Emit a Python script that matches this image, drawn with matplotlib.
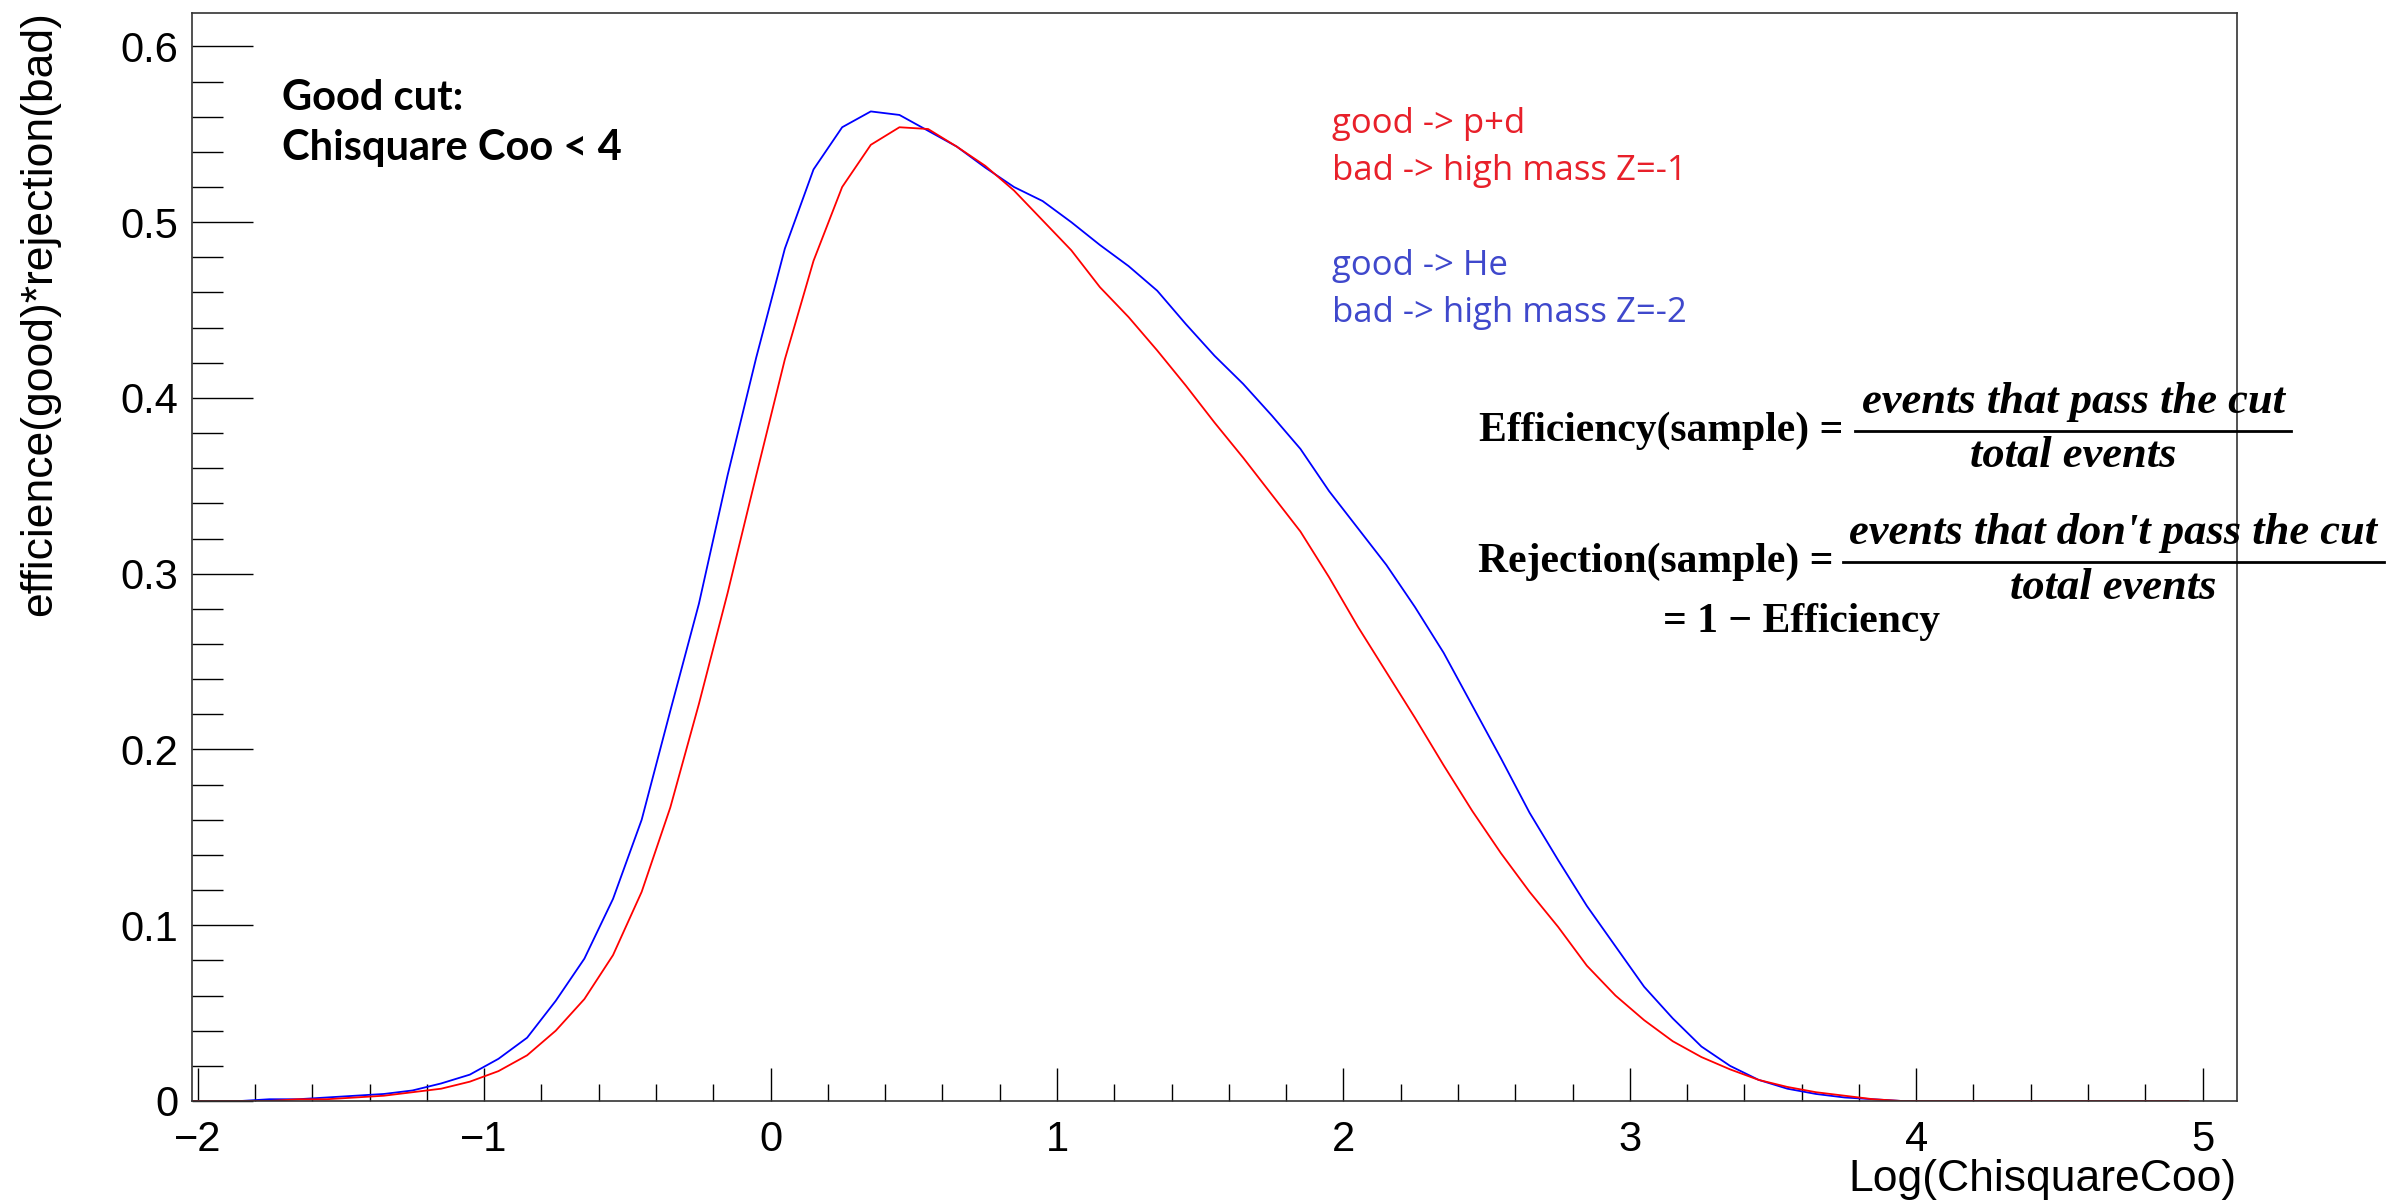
import numpy as np
import matplotlib.pyplot as plt
from matplotlib.lines import Line2D

# bin centres of the Log(ChisquareCoo) histogram
bin_centers = [-2.05, -1.95, -1.85, -1.75, -1.65, -1.55, -1.45, -1.35, -1.25, -1.15,
               -1.05, -0.95, -0.85, -0.75, -0.65, -0.55, -0.45, -0.35, -0.25, -0.15,
               -0.05, 0.05, 0.15, 0.25, 0.35, 0.45, 0.55, 0.65, 0.75, 0.85,
               0.95, 1.05, 1.15, 1.25, 1.35, 1.45, 1.55, 1.65, 1.75, 1.85,
               1.95, 2.05, 2.15, 2.25, 2.35, 2.45, 2.55, 2.65, 2.75, 2.85,
               2.95, 3.05, 3.15, 3.25, 3.35, 3.45, 3.55, 3.65, 3.75, 3.85,
               3.95, 4.05, 4.15, 4.25, 4.35, 4.45, 4.55, 4.65, 4.75, 4.85, 4.95]

# good -> He, bad -> high mass Z=-2 (blue)
he_vals = [0.0, 0.0, 0.0, 0.001, 0.001, 0.002, 0.003, 0.004, 0.006, 0.010,
           0.015, 0.024, 0.036, 0.057, 0.081, 0.115, 0.160, 0.222, 0.283, 0.356,
           0.423, 0.485, 0.530, 0.554, 0.563, 0.561, 0.552, 0.543, 0.531, 0.520,
           0.512, 0.500, 0.487, 0.475, 0.461, 0.442, 0.424, 0.408, 0.390, 0.371,
           0.347, 0.326, 0.305, 0.281, 0.255, 0.225, 0.195, 0.164, 0.137, 0.111,
           0.088, 0.065, 0.047, 0.031, 0.020, 0.012, 0.007, 0.004, 0.002, 0.001,
           0.0, 0.0, 0.0, 0.0, 0.0, 0.0, 0.0, 0.0, 0.0, 0.0, 0.0]

# good -> p+d, bad -> high mass Z=-1 (red)
pd_vals = [0.0, 0.0, 0.0, 0.0, 0.001, 0.001, 0.002, 0.003, 0.005, 0.007,
           0.011, 0.017, 0.026, 0.040, 0.058, 0.083, 0.119, 0.167, 0.226, 0.289,
           0.356, 0.422, 0.478, 0.520, 0.544, 0.554, 0.553, 0.543, 0.532, 0.518,
           0.501, 0.484, 0.463, 0.446, 0.427, 0.407, 0.386, 0.366, 0.345, 0.324,
           0.298, 0.270, 0.244, 0.218, 0.191, 0.165, 0.141, 0.119, 0.099, 0.077,
           0.060, 0.046, 0.034, 0.025, 0.018, 0.012, 0.008, 0.005, 0.003, 0.001,
           0.0, 0.0, 0.0, 0.0, 0.0, 0.0, 0.0, 0.0, 0.0, 0.0, 0.0]

xtick_vals = [-2, -1, 0, 1, 2, 3, 4, 5]
xtick_labels = ['\u22122', '\u22121', '0', '1', '2', '3', '4', '5']
ytick_vals = [0.0, 0.1, 0.2, 0.3, 0.4, 0.5, 0.6]
ytick_labels = ['0', '0.1', '0.2', '0.3', '0.4', '0.5', '0.6']

W, H = 2392, 1203
plt.rcParams['font.family'] = ['Liberation Sans', 'DejaVu Sans']


def fx(px):
    return px / W


def fy(py):
    # pixel row from the top -> figure fraction
    return 1 - py / H


fig = plt.figure(figsize=(W / 100, H / 100), dpi=100)
ax = fig.add_axes([fx(192), fy(1101), (2237 - 192) / W, (1101 - 13) / H])

ax.plot(bin_centers, he_vals, color='#0000ff', lw=1.3)
ax.plot(bin_centers, pd_vals, color='#ff0000', lw=1.3)

ax.set_xlim(-2.02, 5.12)
ax.set_ylim(0, 0.619)
ax.set_xticks(xtick_vals, xtick_labels)
ax.set_yticks(ytick_vals, ytick_labels)
ax.set_xticks(np.arange(-2, 5.01, 0.2), minor=True)
ax.set_yticks(np.arange(0, 0.61, 0.02), minor=True)

ax.tick_params(which='both', direction='in', top=False, right=False, color='black')
ax.tick_params(axis='y', which='major', length=44, width=1.0, labelsize=30, pad=10)
ax.tick_params(axis='y', which='minor', length=22, width=1.0)
ax.tick_params(axis='x', which='major', length=24, width=1.0, labelsize=30, pad=14)
ax.tick_params(axis='x', which='minor', length=12, width=1.0)
for s in ax.spines.values():
    s.set_linewidth(1.2)
    s.set_color('#333333')

# axis titles, ROOT style (at the end of the axes)
fig.text(fx(2237), fy(1179), 'Log(ChisquareCoo)', fontsize=32, ha='right', va='center')
fig.text(fx(40), fy(11), 'efficience(good)*rejection(bad)', fontsize=32,
         rotation=90, ha='center', va='top')

# annotations
fig.text(fx(282), fy(110), 'Good cut:', family='Lato', weight='bold', fontsize=30)
fig.text(fx(282), fy(160), 'Chisquare Coo < 4', family='Lato', weight='bold', fontsize=30)

red_txt = '#e8202a'
blue_txt = '#3f48cc'
fig.text(fx(1332), fy(133), 'good -> p+d', family='Open Sans', fontsize=25, color=red_txt)
fig.text(fx(1332), fy(180), 'bad -> high mass Z=-1', family='Open Sans', fontsize=25, color=red_txt)
fig.text(fx(1332), fy(275), 'good -> He', family='Open Sans', fontsize=25, color=blue_txt)
fig.text(fx(1332), fy(322), 'bad -> high mass Z=-2', family='Open Sans', fontsize=25, color=blue_txt)

# definitions
serif = dict(family='Liberation Serif', weight='bold', fontsize=30)
serif_it = dict(family='Liberation Serif', weight='bold', style='italic', fontsize=32)


def fraction(left_txt, num_txt, x_eq, x1, x2, y_bar, y_left, y_num, y_den):
    fig.text(fx(x_eq), fy(y_left), left_txt, ha='right', **serif)
    fig.text(fx((x1 + x2) / 2), fy(y_num), num_txt, ha='center', **serif_it)
    fig.text(fx((x1 + x2) / 2), fy(y_den), 'total events', ha='center', **serif_it)
    fig.add_artist(Line2D([fx(x1), fx(x2)], [fy(y_bar), fy(y_bar)], color='black', lw=2.0))


fraction('Efficiency(sample) =', 'events that pass the cut',
         1843, 1855, 2291, 431, 441, 413, 467)
fraction('Rejection(sample) =', 'events that don\'t pass the cut',
         1833, 1843, 2384, 562, 572, 544, 599)
fig.text(fx(1663), fy(632), '= 1 \u2212 Efficiency', **serif)

fig.savefig('out.png', dpi=100)
